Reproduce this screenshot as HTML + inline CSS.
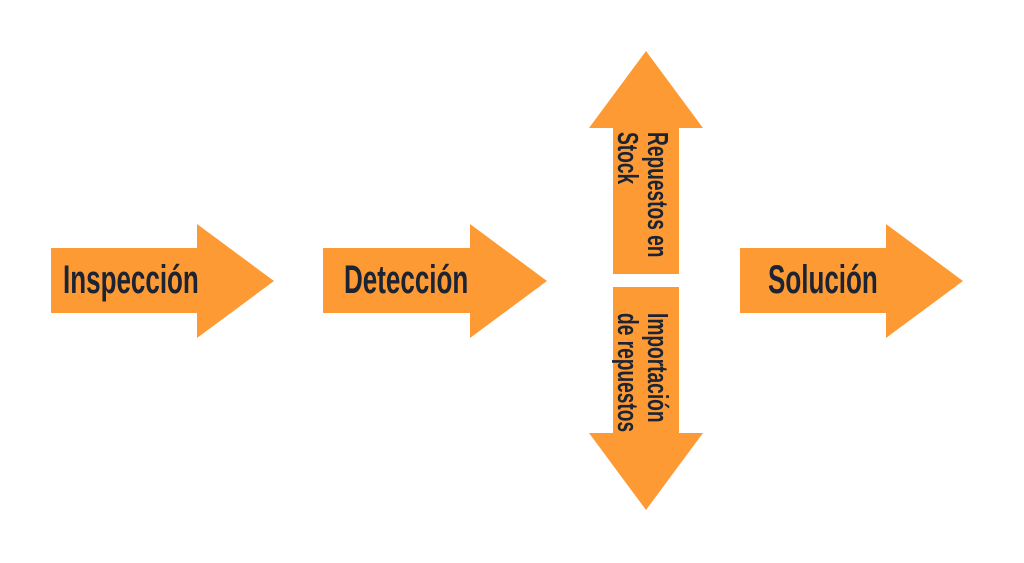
<!DOCTYPE html>
<html><head><meta charset="utf-8"><style>
body{margin:0;width:1024px;height:563px;background:#fff;position:relative;overflow:hidden;font-family:"Liberation Sans",sans-serif}
svg{position:absolute;left:0;top:0}
.t{position:absolute;color:#1c2333;white-space:nowrap;font-size:40px;line-height:40px;font-weight:bold;transform-origin:0 0}
.v{position:absolute;color:#1c2333;font-size:29px;line-height:30px;font-weight:bold;white-space:nowrap;text-align:left}
</style></head><body>
<svg width="1024" height="563">
<g fill="#fd9a33">
<polygon points="51,248 197,248 197,224 274,281 197,338 197,313 51,313"/>
<polygon points="323,248 470,248 470,224 547,281 470,338 470,313 323,313"/>
<polygon points="740,248 886,248 886,224 963,281 886,338 886,313 740,313"/>
<polygon points="613,274 613,128 589,128 646,51 703,128 679,128 679,274"/>
<polygon points="613,287 679,287 679,433 703,433 646,510 589,433 613,433"/>
</g>
</svg>
<div class="t" style="left:63px;top:260px;transform:scaleX(0.65)">Inspección</div>
<div class="t" style="left:344px;top:260px;transform:scaleX(0.65)">Detección</div>
<div class="t" style="left:768px;top:260px;transform:scaleX(0.65)">Solución</div>
<div class="v" style="left:672px;top:132px;transform:rotate(90deg) scaleX(0.66);transform-origin:0 0">Repuestos en<br>Stock</div>
<div class="v" style="left:672px;top:313px;transform:rotate(90deg) scaleX(0.66);transform-origin:0 0">Importación<br>de repuestos</div>
</body></html>
